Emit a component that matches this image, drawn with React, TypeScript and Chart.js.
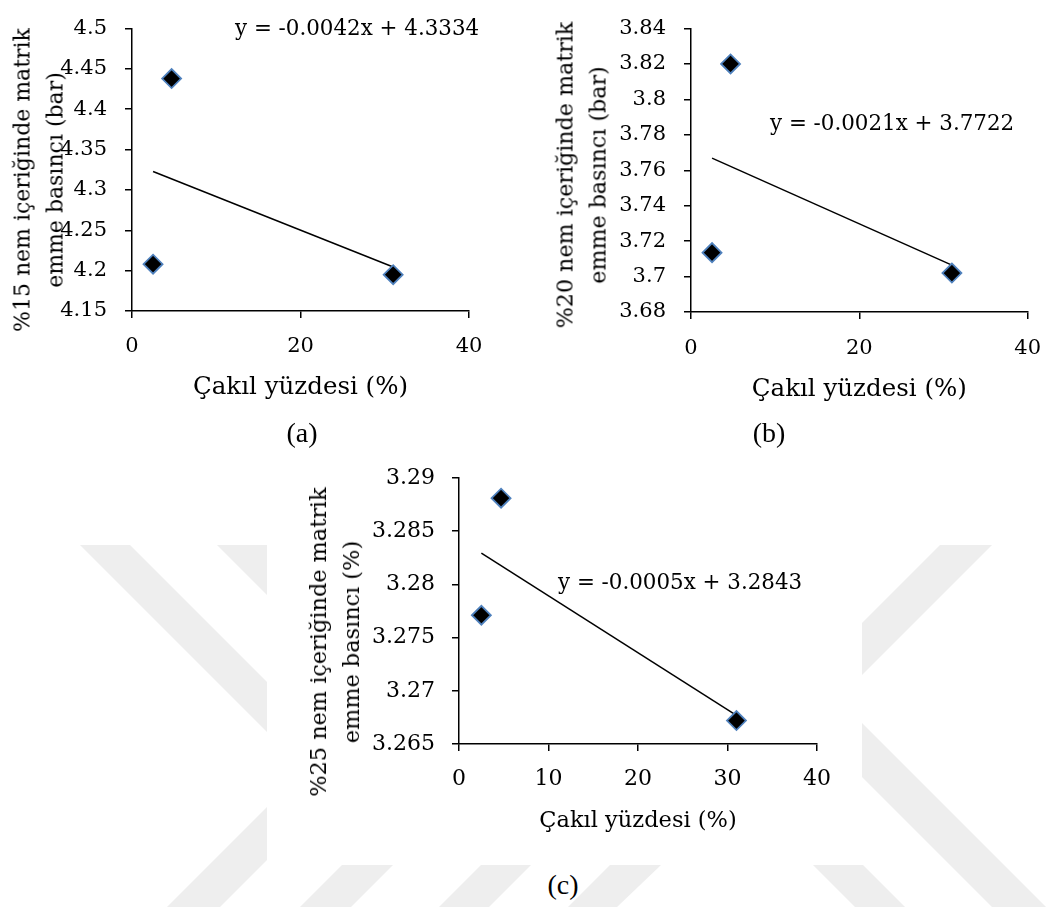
import React, { useEffect, useRef } from "react";
import { Chart, registerables } from "chart.js";

Chart.register(...registerables);

// ---------- DATA ----------
const gravelPercent = [2.5, 4.7, 31];
const suction15 = [4.208, 4.438, 4.195];
const suction20 = [3.7135, 3.82, 3.702];
const suction25 = [3.2771, 3.2881, 3.2672];

const yTicks15 = [4.15, 4.2, 4.25, 4.3, 4.35, 4.4, 4.45, 4.5];
const yTicks20 = [3.68, 3.7, 3.72, 3.74, 3.76, 3.78, 3.8, 3.82, 3.84];
const yTicks25 = [3.265, 3.27, 3.275, 3.28, 3.285, 3.29];
const xTicksAB = [0, 20, 40];
const xTicksC = [0, 10, 20, 30, 40];

const equationLabels = [
  "y = -0.0042x + 4.3334",
  "y = -0.0021x + 3.7722",
  "y = -0.0005x + 3.2843",
];
const yTitles = [
  ["%15 nem içeriğinde matrik", "emme basıncı (bar)"],
  ["%20 nem içeriğinde matrik", "emme basıncı (bar)"],
  ["%25 nem içeriğinde matrik", "emme basıncı (%)"],
];
const xTitle = "Çakıl yüzdesi (%)";
const captions = ["(a)", "(b)", "(c)"];

// ---------- helpers ----------
function linearFit(xs: number[], ys: number[]) {
  const n = xs.length;
  const mx = xs.reduce((a, b) => a + b, 0) / n;
  const my = ys.reduce((a, b) => a + b, 0) / n;
  let sxy = 0;
  let sxx = 0;
  for (let i = 0; i < n; i++) {
    sxy += (xs[i] - mx) * (ys[i] - my);
    sxx += (xs[i] - mx) * (xs[i] - mx);
  }
  const slope = sxy / sxx;
  return { slope, intercept: my - slope * mx };
}

const SERIF = "'DejaVu Serif', serif";
const CAPTION_FONT = "'Liberation Serif', 'Times New Roman', serif";

type Panel = {
  ys: number[];
  yTicks: number[];
  xTicks: number[];
  eq: string;
  yTitle: string[];
  caption: string;
  canvas: { left: number; top: number; width: number; height: number };
  pad: { left: number; top: number; right: number; bottom: number };
  yAxisWidth: number;
  xAxisHeight: number;
  tickFont: number;
  xTickPad: number;
  yTickPad: number;
  xTitleFont: number;
  xTitlePad: number;
  yTitleFont: number;
  yTitlePitch: number;
  yTitlePos: { x: number; y: number };
  eqPos: { x: number; y: number };
  captionPos: { x: number; y: number };
};

const panels: Panel[] = [
  {
    ys: suction15,
    yTicks: yTicks15,
    xTicks: xTicksAB,
    eq: equationLabels[0],
    yTitle: yTitles[0],
    caption: captions[0],
    canvas: { left: 0, top: 0, width: 520, height: 420 },
    pad: { left: 0, top: 20, right: 51, bottom: 0 },
    yAxisWidth: 132,
    xAxisHeight: 109,
    tickFont: 21,
    xTickPad: 16,
    yTickPad: 18,
    xTitleFont: 24.5,
    xTitlePad: 18,
    yTitleFont: 22,
    yTitlePitch: 32.5,
    yTitlePos: { x: 39, y: 180 },
    eqPos: { x: 235, y: 28 },
    captionPos: { x: 302, y: 433 },
  },
  {
    ys: suction20,
    yTicks: yTicks20,
    xTicks: xTicksAB,
    eq: equationLabels[1],
    yTitle: yTitles[1],
    caption: captions[1],
    canvas: { left: 520, top: 0, width: 538, height: 420 },
    pad: { left: 0, top: 11, right: 17, bottom: 0 },
    yAxisWidth: 171,
    xAxisHeight: 108,
    tickFont: 21,
    xTickPad: 17,
    yTickPad: 18,
    xTitleFont: 24.5,
    xTitlePad: 16,
    yTitleFont: 22.2,
    yTitlePitch: 32.5,
    yTitlePos: { x: 581, y: 175 },
    eqPos: { x: 770, y: 123 },
    captionPos: { x: 769, y: 433 },
  },
  {
    ys: suction25,
    yTicks: yTicks25,
    xTicks: xTicksC,
    eq: equationLabels[2],
    yTitle: yTitles[2],
    caption: captions[2],
    canvas: { left: 260, top: 450, width: 600, height: 400 },
    pad: { left: 0, top: 28, right: 43, bottom: 0 },
    yAxisWidth: 199,
    xAxisHeight: 106,
    tickFont: 22,
    xTickPad: 15,
    yTickPad: 17,
    xTitleFont: 22.5,
    xTitlePad: 15.5,
    yTitleFont: 22.4,
    yTitlePitch: 33,
    yTitlePos: { x: 334.5, y: 642 },
    eqPos: { x: 558, y: 582 },
    captionPos: { x: 563, y: 885 },
  },
];

function ScatterPanel({ p }: { p: Panel }) {
  const ref = useRef<HTMLCanvasElement | null>(null);

  useEffect(() => {
    if (!ref.current) return;
    const fitRes = linearFit(gravelPercent, p.ys);
    const xMin = Math.min(...gravelPercent);
    const xMax = Math.max(...gravelPercent);
    const trend = [
      { x: xMin, y: fitRes.intercept + fitRes.slope * xMin },
      { x: xMax, y: fitRes.intercept + fitRes.slope * xMax },
    ];
    const points = gravelPercent.map((x, i) => ({ x, y: p.ys[i] }));

    const chart = new Chart(ref.current, {
      type: "scatter",
      data: {
        datasets: [
          {
            label: "data",
            data: points,
            pointStyle: "rectRot",
            pointRadius: 9.5,
            pointBackgroundColor: "#000000",
            pointBorderColor: "#4f81bd",
            pointBorderWidth: 1.8,
            showLine: false,
          },
          {
            label: "trend",
            data: trend,
            showLine: true,
            pointRadius: 0,
            borderColor: "#000000",
            borderWidth: 1.5,
          },
        ],
      },
      options: {
        animation: false,
        responsive: false,
        events: [],
        layout: { padding: p.pad },
        plugins: { legend: { display: false }, tooltip: { enabled: false } },
        scales: {
          x: {
            type: "linear",
            min: p.xTicks[0],
            max: p.xTicks[p.xTicks.length - 1],
            afterBuildTicks: (s: any) => {
              s.ticks = p.xTicks.map((v) => ({ value: v }));
            },
            afterFit: (s: any) => {
              s.height = p.xAxisHeight;
            },
            grid: {
              drawOnChartArea: false,
              drawTicks: true,
              tickLength: 7,
              color: "#000000",
              lineWidth: 1.5,
            },
            border: { color: "#000000", width: 1.5 },
            ticks: {
              color: "#000000",
              padding: p.xTickPad,
              maxRotation: 0,
              font: { family: SERIF, size: p.tickFont, lineHeight: 1.2 },
              callback: (v: any) => String(v),
            },
            title: {
              display: true,
              text: xTitle,
              color: "#000000",
              font: { family: SERIF, size: p.xTitleFont, lineHeight: 1.2 },
              padding: { top: 0, bottom: p.xTitlePad },
            },
          },
          y: {
            type: "linear",
            min: p.yTicks[0],
            max: p.yTicks[p.yTicks.length - 1],
            afterBuildTicks: (s: any) => {
              s.ticks = p.yTicks.map((v) => ({ value: v }));
            },
            afterFit: (s: any) => {
              s.width = p.yAxisWidth;
            },
            grid: {
              drawOnChartArea: false,
              drawTicks: true,
              tickLength: 7,
              color: "#000000",
              lineWidth: 1.5,
            },
            border: { color: "#000000", width: 1.5 },
            ticks: {
              color: "#000000",
              padding: p.yTickPad,
              font: { family: SERIF, size: p.tickFont, lineHeight: 1 },
              callback: (v: any) => String(v),
            },
          },
        },
      },
    } as any);
    return () => chart.destroy();
  }, [p]);

  return (
    <>
      <canvas
        ref={ref}
        width={p.canvas.width}
        height={p.canvas.height}
        style={{
          position: "absolute",
          left: p.canvas.left,
          top: p.canvas.top,
          width: p.canvas.width,
          height: p.canvas.height,
        }}
      />
      <div
        style={{
          position: "absolute",
          left: p.yTitlePos.x,
          top: p.yTitlePos.y,
          transform: "translate(-50%, -50%) rotate(-90deg)",
          fontFamily: SERIF,
          fontSize: p.yTitleFont,
          lineHeight: p.yTitlePitch + "px",
          whiteSpace: "nowrap",
          textAlign: "center",
          color: "#000",
        }}
      >
        {p.yTitle.map((t, i) => (
          <div key={i}>{t}</div>
        ))}
      </div>
      <div
        style={{
          position: "absolute",
          left: p.eqPos.x,
          top: p.eqPos.y,
          transform: "translateY(-50%)",
          fontFamily: SERIF,
          fontSize: 21.4,
          lineHeight: 1,
          whiteSpace: "nowrap",
          color: "#000",
        }}
      >
        {p.eq}
      </div>
      <div
        style={{
          position: "absolute",
          left: p.captionPos.x,
          top: p.captionPos.y,
          transform: "translate(-50%, -50%)",
          fontFamily: CAPTION_FONT,
          fontSize: 28,
          lineHeight: 1,
          whiteSpace: "nowrap",
          color: "#000",
        }}
      >
        {p.caption}
      </div>
    </>
  );
}

function Watermark() {
  const fill = "#eeeeee";
  return (
    <svg
      width={1058}
      height={907}
      style={{ position: "absolute", left: 0, top: 0 }}
    >
      <polygon points="80,545 130,545 267,682 267,732" fill={fill} />
      <polygon points="217,545 267,545 267,595" fill={fill} />
      <polygon points="167,907 220,907 267,860 267,807" fill={fill} />
      <polygon points="940,545 992,545 862,675 862,623" fill={fill} />
      <polygon points="862,723 1046,907 992,907 862,777" fill={fill} />
      <polygon points="813,865 863,865 905,907 855,907" fill={fill} />
      <polygon points="342,865 393,865 351,907 300,907" fill={fill} />
      <polygon points="481,865 531,865 489,907 439,907" fill={fill} />
      <polygon points="610,865 661,865 617,907 568,907" fill={fill} />
      <rect x={267} y={440} width={595} height={425} fill="#ffffff" />
    </svg>
  );
}

export default function App() {
  return (
    <div
      style={{
        position: "absolute",
        left: 0,
        top: 0,
        width: 1058,
        height: 907,
        overflow: "hidden",
        background: "#ffffff",
      }}
    >
      <Watermark />
      {panels.map((p, i) => (
        <ScatterPanel key={i} p={p} />
      ))}
    </div>
  );
}
